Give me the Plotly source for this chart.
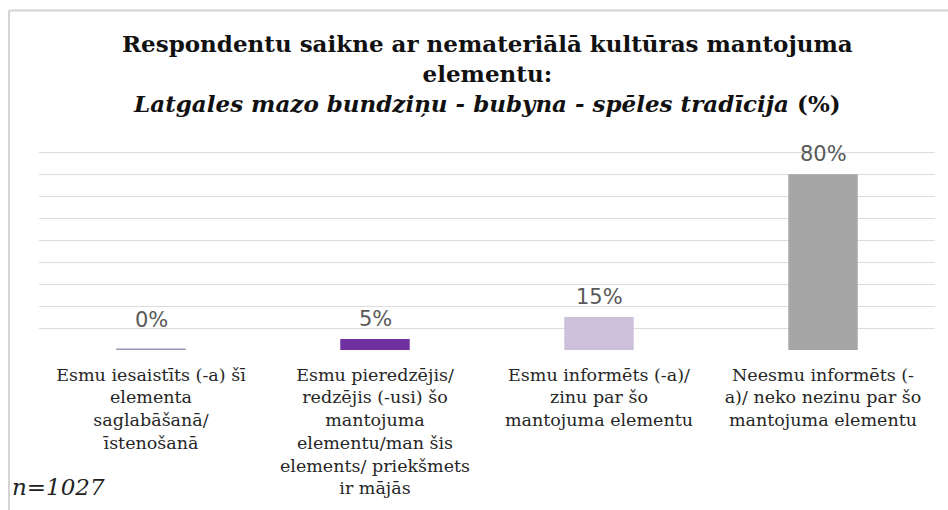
import plotly.graph_objects as go

# Survey answers and their shares (%)
categories = [
    "Esmu iesaistīts (-a) šī<br>elementa<br>saglabāšanā/<br>īstenošanā",
    "Esmu pieredzējis/<br>redzējis (-usi) šo<br>mantojuma<br>elementu/man šis<br>elements/ priekšmets<br>ir mājās",
    "Esmu informēts (-a)/<br>zinu par šo<br>mantojuma elementu",
    "Neesmu informēts (-<br>a)/ neko nezinu par šo<br>mantojuma elementu",
]
values = [0, 5, 15, 80]
value_labels = ["0%", "5%", "15%", "80%"]
bar_colors = ["#9b90b3", "#7030a0", "#ccc0da", "#a6a6a6"]
sample_note = "n=1027"
title_lines = [
    "Respondentu saikne ar nemateriālā kultūras mantojuma",
    "elementu:",
    "<i>Latgales mazo bundziņu - bubyna - spēles tradīcija</i> (%)",
]

W, H = 948, 510
L, R, T, B = 39, 13, 150, 158
BAR_W = 0.31

x_idx = list(range(len(categories)))

# helpers converting page pixels to paper coordinates
pw, ph = W - L - R, H - T - B
def px_x(p):
    return (p - L) / pw
def px_y(p):
    return (H - B - p) / ph

fig = go.Figure()
fig.add_trace(go.Bar(
    x=x_idx,
    y=values,
    width=BAR_W,
    marker=dict(color=bar_colors, line=dict(width=0)),
    hoverinfo="skip",
))

annotations = []
for i, (v, lab) in enumerate(zip(values, value_labels)):
    annotations.append(dict(
        x=i, y=v, xref="x", yref="y", text=lab, showarrow=False,
        yanchor="bottom", yshift=16 if v == 0 else 6,
        font=dict(family="DejaVu Sans", size=21, color="#595959"),
    ))

# chart title
annotations.append(dict(
    x=0.5, y=px_y(27), xref="paper", yref="paper",
    text="<b>" + "<br>".join(title_lines) + "</b>",
    showarrow=False, xanchor="center", yanchor="top", align="center",
    font=dict(family="DejaVu Serif", size=23, color="#111111"),
))

# sample size note
annotations.append(dict(
    x=px_x(10), y=px_y(490), xref="paper", yref="paper", text=f"<i>{sample_note}</i>",
    showarrow=False, xanchor="left", yanchor="middle",
    font=dict(family="DejaVu Serif", size=23, color="#222222"),
))

shapes = []
# zero-height bars are not rendered, so outline them at the baseline
for i, (v, c) in enumerate(zip(values, bar_colors)):
    if v == 0:
        shapes.append(dict(
            type="line", xref="x", yref="y",
            x0=i - BAR_W / 2, x1=i + BAR_W / 2, y0=0, y1=0,
            line=dict(color=c, width=3),
        ))

# outer chart frame (left and top edges)
shapes.append(dict(type="line", xref="paper", yref="paper",
                   x0=px_x(9), x1=px_x(9), y0=px_y(9), y1=px_y(H + 5),
                   line=dict(color="#d4d4d4", width=2)))
shapes.append(dict(type="line", xref="paper", yref="paper",
                   x0=px_x(9), x1=px_x(W + 5), y0=px_y(9), y1=px_y(9),
                   line=dict(color="#d4d4d4", width=2)))

fig.update_layout(
    width=W, height=H,
    margin=dict(l=L, r=R, t=T, b=B),
    paper_bgcolor="white", plot_bgcolor="white",
    showlegend=False,
    xaxis=dict(
        tickmode="array", tickvals=x_idx, ticktext=categories,
        range=[-0.5, len(categories) - 0.5],
        showgrid=False, zeroline=False, showline=False, ticks="",
        tickfont=dict(family="DejaVu Serif", size=17.5, color="#262626"),
        ticklabelstandoff=12,
        fixedrange=True,
    ),
    yaxis=dict(
        range=[0, 91], dtick=10, tick0=0,
        showgrid=True, gridcolor="#dcdcdc", gridwidth=1,
        zeroline=False, showline=False, showticklabels=False, ticks="",
        fixedrange=True,
    ),
    annotations=annotations,
    shapes=shapes,
)

fig.write_html("out.html")
